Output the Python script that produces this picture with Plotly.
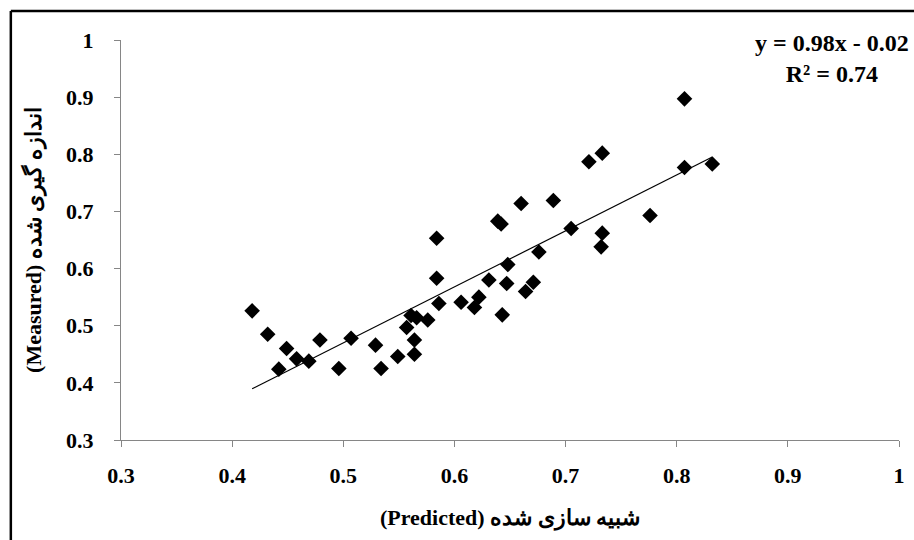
import plotly.graph_objects as go
import numpy as np

predicted = [0.418, 0.432, 0.442, 0.449, 0.458, 0.469, 0.479, 0.496, 0.507, 0.529,
             0.534, 0.549, 0.557, 0.561, 0.566, 0.564, 0.564, 0.576, 0.584, 0.584,
             0.586, 0.606, 0.618, 0.622, 0.631, 0.639, 0.642, 0.643, 0.647, 0.648,
             0.660, 0.664, 0.671, 0.676, 0.689, 0.705, 0.721, 0.733, 0.732, 0.733,
             0.776, 0.807, 0.807, 0.832]
measured = [0.526, 0.485, 0.424, 0.460, 0.442, 0.438, 0.475, 0.425, 0.478, 0.466,
            0.425, 0.446, 0.497, 0.518, 0.514, 0.475, 0.450, 0.510, 0.583, 0.653,
            0.539, 0.541, 0.532, 0.550, 0.580, 0.683, 0.678, 0.519, 0.574, 0.607,
            0.714, 0.560, 0.576, 0.629, 0.719, 0.670, 0.787, 0.802, 0.638, 0.662,
            0.693, 0.897, 0.777, 0.783]

slope = 0.98
intercept = -0.02
r_squared = 0.74

tick_vals = [0.3, 0.4, 0.5, 0.6, 0.7, 0.8, 0.9, 1.0]
tick_text = ["0.3", "0.4", "0.5", "0.6", "0.7", "0.8", "0.9", "1"]

x_title = "(Predicted) شبیه سازی شده"
y_title = "(Measured) اندازه گیری شده"

font_family = "Liberation Serif"

x_line = np.array([min(predicted), max(predicted)])
y_line = slope * x_line + intercept

fig = go.Figure()
fig.add_trace(go.Scatter(
    x=predicted, y=measured, mode="markers",
    marker=dict(symbol="diamond", size=12, color="black"),
    showlegend=False, hoverinfo="skip"))
fig.add_trace(go.Scatter(
    x=x_line, y=y_line, mode="lines",
    line=dict(color="black", width=1.2),
    showlegend=False, hoverinfo="skip"))

axis_common = dict(
    range=[0.3, 1.0], tickvals=tick_vals, ticktext=tick_text,
    showgrid=False, zeroline=False, showline=True, linecolor="#868686",
    linewidth=1, ticks="outside", ticklen=6, tickcolor="#868686", tickwidth=1,
    tickfont=dict(family=font_family, size=22, color="black", weight="bold"),
)

fig.update_layout(
    width=914, height=540,
    margin=dict(l=121, r=9, t=40, b=100),
    paper_bgcolor="white", plot_bgcolor="white",
    xaxis=dict(**axis_common, ticklabelstandoff=10,
               title=dict(text=x_title, standoff=22,
                          font=dict(family=font_family, size=22, color="black", weight="bold"))),
    yaxis=dict(**axis_common, ticklabelstandoff=16,
               title=dict(text=y_title, standoff=18,
                          font=dict(family=font_family, size=22, color="black", weight="bold"))),
    annotations=[dict(
        xref="paper", yref="paper", x=1.016, y=1.03, xanchor="right", yanchor="top",
        align="center", showarrow=False,
        text=f"y = {slope}x - {abs(intercept)}<br>R² = {r_squared}",
        font=dict(family=font_family, size=24, color="black", weight="bold"))],
    shapes=[
        dict(type="line", xref="paper", yref="paper", x0=-0.1416, x1=-0.1416,
             y0=-0.26, y1=1.0725, line=dict(color="black", width=2.5)),
        dict(type="line", xref="paper", yref="paper", x0=-0.1416, x1=1.02,
             y0=1.0725, y1=1.0725, line=dict(color="black", width=2.5)),
    ],
)

fig.write_html("out.html")
